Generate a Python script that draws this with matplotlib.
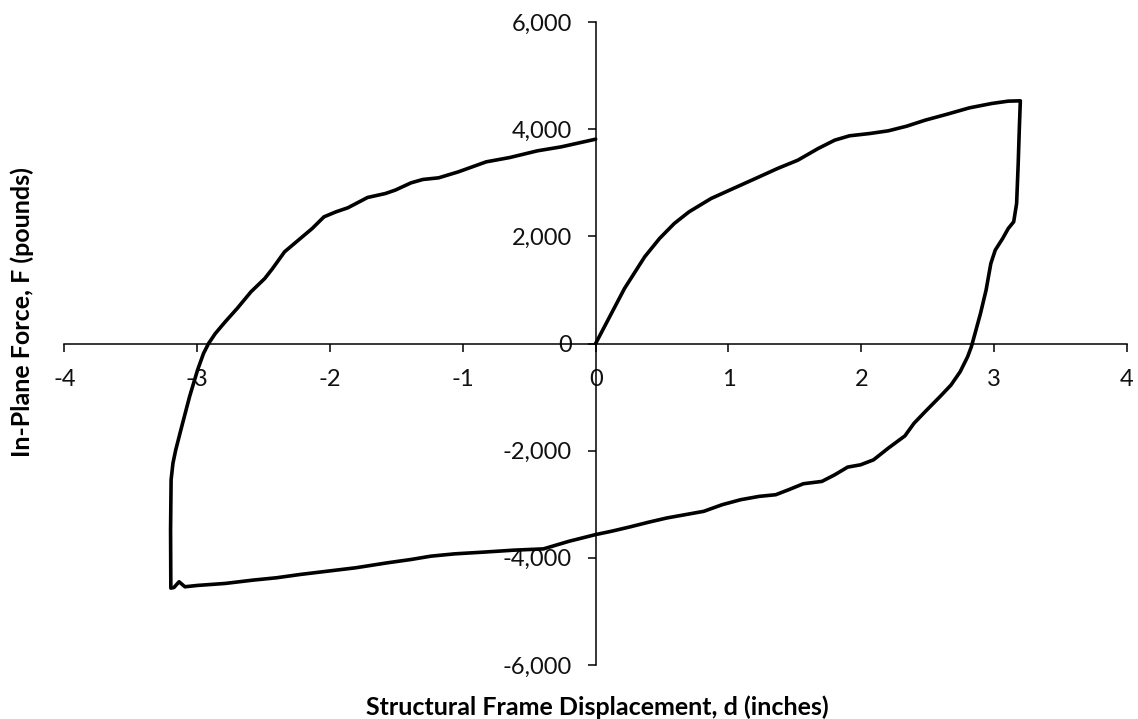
import matplotlib
matplotlib.use("Agg")
import matplotlib.pyplot as plt
from matplotlib.ticker import FuncFormatter

plt.rcParams['font.family'] = ['Lato', 'DejaVu Sans']
plt.rcParams['axes.unicode_minus'] = False

# Hysteresis loop: displacement (in) and in-plane force (lb), in recorded order
displacement = [
    0.000, 0.092, 0.217, 0.369, 0.481, 0.592, 0.703, 0.869, 1.036, 1.203,
    1.369, 1.522, 1.675, 1.800, 1.911, 2.064, 2.203, 2.342, 2.481, 2.647,
    2.814, 2.981, 3.106, 3.197,
    3.189, 3.181, 3.169, 3.147, 3.106, 3.064, 3.008, 2.975, 2.939, 2.897,
    2.856, 2.828, 2.800, 2.744, 2.675, 2.592, 2.481, 2.397, 2.328, 2.203,
    2.092, 1.994, 1.897, 1.800, 1.703, 1.564, 1.453, 1.356, 1.231, 1.092,
    0.953, 0.814, 0.675, 0.536, 0.397, 0.258, 0.119, 0.000,
    -0.199, -0.393, -0.616, -0.854, -1.063, -1.241, -1.390, -1.568, -1.807,
    -2.015, -2.223, -2.402, -2.580, -2.789, -2.997, -3.092, -3.136, -3.175,
    -3.198,
    -3.200, -3.196, -3.182, -3.161, -3.116, -3.057, -2.997, -2.952, -2.914,
    -2.863, -2.789, -2.699, -2.595, -2.491, -2.432, -2.342, -2.223, -2.134,
    -2.045, -1.955, -1.866, -1.717, -1.583, -1.509, -1.390, -1.301, -1.182,
    -1.033, -0.824, -0.646, -0.438, -0.259, 0.000,
]
force = [
    0, 435, 1026, 1617, 1960, 2240, 2457, 2706, 2893, 3079,
    3266, 3421, 3639, 3795, 3876, 3919, 3969, 4056, 4168, 4280,
    4398, 4479, 4523, 4529,
    3981, 3359, 2613, 2271, 2146, 1960, 1742, 1493, 995, 560,
    187, -62, -248, -527, -775, -992, -1271, -1488, -1724, -1953,
    -2171, -2264, -2307, -2450, -2574, -2617, -2729, -2822, -2853, -2915,
    -3008, -3132, -3194, -3256, -3336, -3423, -3504, -3566,
    -3690, -3833, -3857, -3895, -3926, -3969, -4031, -4093, -4186,
    -4248, -4310, -4372, -4416, -4478, -4515, -4540, -4447, -4555,
    -4565,
    -3473, -2543, -2233, -1984, -1550, -992, -496, -186, 0,
    187, 404, 653, 964, 1213, 1400, 1711, 1960, 2146,
    2364, 2457, 2532, 2725, 2799, 2862, 2998, 3061, 3092,
    3204, 3390, 3471, 3596, 3670, 3813,
]

x_ticks = [-4, -3, -2, -1, 0, 1, 2, 3, 4]
y_ticks = [-6000, -4000, -2000, 0, 2000, 4000, 6000]

W, H = 1138, 719
fig = plt.figure(figsize=(W / 100, H / 100), dpi=100)
ax = fig.add_axes([64.3 / W, 1 - 665 / H, (1127 - 64.3) / W, (665 - 22) / H])

ax.plot(displacement, force, color='black', lw=2.6,
        solid_joinstyle='round', solid_capstyle='round', zorder=3)

ax.set_xlim(-4, 4)
ax.set_ylim(-6000, 6000)
ax.set_xticks(x_ticks)
ax.set_yticks(y_ticks)
ax.xaxis.set_major_formatter(FuncFormatter(lambda v, p: f"{int(v)}"))
ax.yaxis.set_major_formatter(FuncFormatter(lambda v, p: f"{int(v):,}"))

for side in ('top', 'right'):
    ax.spines[side].set_visible(False)
ax.spines['left'].set_position(('data', 0))
ax.spines['bottom'].set_position(('data', 0))
for side in ('left', 'bottom'):
    ax.spines[side].set_linewidth(1.1)
    ax.spines[side].set_color('black')

ax.tick_params(axis='x', direction='out', length=6, width=1.1,
               labelsize=17, pad=12, labelcolor='#111111')
ax.tick_params(axis='y', direction='out', length=6, width=1.1,
               labelsize=17, pad=11, labelcolor='#111111')

fig.text(597 / W, 1 - 715 / H, 'Structural Frame Displacement, d (inches)',
         ha='center', va='baseline', fontsize=18, fontweight='bold')
fig.text(22 / W, 1 - 457 / H, 'In-Plane Force, F (pounds)',
         ha='center', va='bottom', rotation=90, fontsize=18,
         fontweight='bold')

fig.savefig('out.png', dpi=100)
